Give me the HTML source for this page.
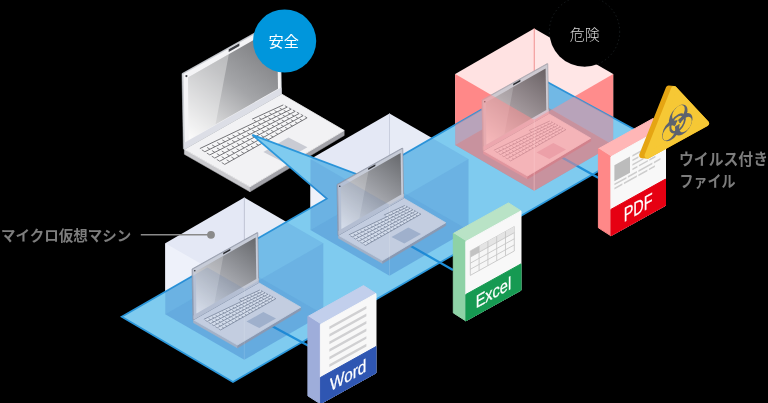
<!DOCTYPE html>
<html><head><meta charset="utf-8"><title>diagram</title>
<style>html,body{margin:0;padding:0;background:#000;}body{width:768px;height:403px;overflow:hidden;font-family:"Liberation Sans",sans-serif;}svg{display:block;filter:blur(0.4px);}</style>
</head><body>
<svg width="768" height="403" viewBox="0 0 768 403">
<defs>
<clipPath id="floorclip"><polygon points="121.7,316.8 538.1,77.0 653.0,139.6 233.0,382.0"/><polygon points="252.4,134.9 392.0,187.3 400.0,215.0 326.8,199.3"/></clipPath>
<linearGradient id="dg1" gradientUnits="userSpaceOnUse" x1="277.0" y1="26.7" x2="188.8" y2="139.8"><stop offset="0" stop-color="#6e6f72"/><stop offset="0.5" stop-color="#a4a5a8"/><stop offset="1" stop-color="#fafafa"/></linearGradient>
<linearGradient id="dg3" gradientUnits="userSpaceOnUse" x1="255.6" y1="237.5" x2="196.4" y2="313.4"><stop offset="0" stop-color="#66686c"/><stop offset="0.5" stop-color="#a2a4aa"/><stop offset="1" stop-color="#e6e8ee"/></linearGradient>
<linearGradient id="dg2" gradientUnits="userSpaceOnUse" x1="400.6" y1="153.0" x2="341.4" y2="228.9"><stop offset="0" stop-color="#66686c"/><stop offset="0.5" stop-color="#a2a4aa"/><stop offset="1" stop-color="#e6e8ee"/></linearGradient>
<linearGradient id="dg4" gradientUnits="userSpaceOnUse" x1="545.6" y1="68.5" x2="486.4" y2="144.4"><stop offset="0" stop-color="#6a6265"/><stop offset="0.5" stop-color="#a0969a"/><stop offset="1" stop-color="#ecdfe2"/></linearGradient>
<clipPath id="redclip"><polygon points="121.7,316.8 538.1,77.0 653.0,139.6 233.0,382.0"/><polygon points="252.4,134.9 392.0,187.3 400.0,215.0 326.8,199.3"/><polygon points="481.5,152.1 480.8,99.1 547.9,62.9 549.3,114.6"/></clipPath>
</defs>
<rect width="768" height="403" fill="#000"/>
<polygon points="184.4,149.3 250.0,186.8 250.0,191.8 184.4,154.3" fill="#c9c9cd" stroke="#c9c9cd" stroke-width="0.5"/>
<polygon points="250.0,186.8 344.2,130.5 344.2,135.5 250.0,191.8" fill="#a2a2a8" stroke="#a2a2a8" stroke-width="0.5"/>
<polygon points="184.4,149.3 281.5,94.0 344.2,130.5 250.0,186.8" fill="#f2f2f4" stroke="#f2f2f4" stroke-width="0.8" stroke-linejoin="round"/>
<polygon points="263.4,152.0 288.4,137.6 307.4,147.3 282.4,161.7" fill="#c9cbd3" />
<polygon points="294.9,154.6 301.2,150.9 307.4,147.3 301.0,151.2" fill="#f2f2f4" />
<polygon points="199.9,148.6 256.4,121.7 252.1,119.2 283.3,104.9 307.1,117.8 224.7,164.4" fill="#f6f6f7" />
<path d="M252.10 119.19L283.30 104.90M199.87 148.57L287.27 107.05M204.83 151.73L291.23 109.20M209.80 154.90L295.20 111.35M214.77 158.07L299.17 113.50M219.73 161.23L303.13 115.65M224.70 164.40L307.10 117.80" stroke="#737377" stroke-width="1.00" fill="none"/>
<path d="M256.42 121.70L253.83 120.20M261.56 119.26L259.00 117.79M266.70 116.82L264.18 115.39M271.84 114.38L269.36 112.98M276.98 111.93L274.53 110.57M282.13 109.49L279.71 108.17M287.27 107.05L284.89 105.76M204.83 151.73L201.85 149.83M209.92 149.23L206.97 147.37M215.00 146.73L212.09 144.90M220.08 144.23L217.21 142.44M225.16 141.73L222.32 139.97M230.25 139.22L227.44 137.50M235.33 136.72L232.56 135.04M240.41 134.22L237.68 132.57M245.49 131.72L242.79 130.10M250.57 129.22L247.91 127.64M255.66 126.71L253.03 125.17M260.74 124.21L258.15 122.71M265.82 121.71L263.27 120.24M270.90 119.21L268.38 117.77M275.99 116.71L273.50 115.31M281.07 114.20L278.62 112.84M286.15 111.70L283.74 110.38M291.23 109.20L288.85 107.91M209.80 154.90L206.82 153.00M214.82 152.34L211.88 150.47M219.85 149.78L216.94 147.95M224.87 147.21L222.00 145.42M229.89 144.65L227.06 142.90M234.92 142.09L232.11 140.37M239.94 139.53L237.17 137.84M244.96 136.97L242.23 135.32M249.99 134.41L247.29 132.79M255.01 131.84L252.35 130.27M260.04 129.28L257.41 127.74M265.06 126.72L262.47 125.22M270.08 124.16L267.53 122.69M275.11 121.60L272.58 120.16M280.13 119.04L277.64 117.64M285.15 116.47L282.70 115.11M290.18 113.91L287.76 112.59M295.20 111.35L292.82 110.06M214.77 158.07L211.79 156.17M219.73 155.45L216.79 153.58M224.70 152.82L221.79 151.00M229.66 150.20L226.79 148.41M234.63 147.58L231.79 145.82M239.59 144.96L236.79 143.24M244.55 142.34L241.79 140.65M249.52 139.72L246.79 138.07M254.48 137.09L251.79 135.48M259.45 134.47L256.79 132.90M264.41 131.85L261.79 130.31M269.38 129.23L266.79 127.72M274.34 126.61L271.79 125.14M279.31 123.99L276.79 122.55M284.27 121.36L281.79 119.97M289.24 118.74L286.79 117.38M294.20 116.12L291.79 114.80M299.17 113.50L296.79 112.21M219.73 161.23L216.75 159.33M224.64 158.55L221.69 156.69M229.55 155.87L226.64 154.04M234.45 153.19L231.58 151.40M239.36 150.51L236.52 148.75M244.26 147.83L241.46 146.11M249.17 145.15L246.40 143.46M254.07 142.46L251.34 140.81M258.98 139.78L256.28 138.17M263.89 137.10L261.22 135.52M268.79 134.42L266.17 132.88M273.70 131.74L271.11 130.23M278.60 129.06L276.05 127.59M283.51 126.38L280.99 124.94M288.42 123.69L285.93 122.30M293.32 121.01L290.87 119.65M298.23 118.33L295.81 117.01M303.13 115.65L300.75 114.36M224.70 164.40L221.72 162.50M229.55 161.66L226.60 159.79M234.39 158.92L231.48 157.09M239.24 156.18L236.37 154.38M244.09 153.44L241.25 151.68M248.94 150.69L246.13 148.97M253.78 147.95L251.01 146.27M258.63 145.21L255.90 143.56M263.48 142.47L260.78 140.86M268.32 139.73L265.66 138.15M273.17 136.99L270.54 135.45M278.02 134.25L275.43 132.74M282.86 131.51L280.31 130.04M287.71 128.76L285.19 127.33M292.56 126.02L290.07 124.63M297.41 123.28L294.96 121.92M302.25 120.54L299.84 119.22M307.10 117.80L304.72 116.51" stroke="#737377" stroke-width="0.90" fill="none"/>
<polygon points="183.4,149.1 182.0,73.6 279.2,19.2 280.5,93.8" fill="#ececef" stroke="#b4b8c0" stroke-width="0.6" stroke-linejoin="round"/>
<polygon points="184.4,149.3 183.0,73.8 280.2,19.5 281.5,94.0" fill="#f4f4f6" stroke="#b4b8c0" stroke-width="0.6" stroke-linejoin="round"/>
<polygon points="184.4,149.3 184.4,142.8 281.4,87.5 281.5,94.0" fill="#dcdee6" />
<polygon points="188.8,139.8 188.0,77.5 277.0,26.7 278.0,88.7" fill="url(#dg1)" />
<polygon points="188.8,139.8 188.0,77.5 228.9,54.1 215.5,124.5" fill="rgba(255,255,255,0.35)" />
<polygon points="228.7,49.3 239.4,43.3 239.4,45.9 228.7,51.9" fill="#3c3e44" />
<circle cx="186.4" cy="76.1" r="1.1" fill="#3c3e44"/>
<polygon points="165.3,243.2 244.3,197.6 244.3,268.6 165.3,314.2" fill="#e4e8f5" />
<polygon points="244.3,197.6 323.3,243.2 323.3,314.2 244.3,268.6" fill="#e7ebf6" />
<polygon points="165.3,243.2 244.3,288.8 244.3,359.8 165.3,314.2" fill="#eef1fa" />
<polygon points="244.3,288.8 323.3,243.2 323.3,314.2 244.3,359.8" fill="#eaeef8" />
<line x1="244.3" y1="197.6" x2="244.3" y2="288.8" stroke="#c9cede" stroke-width="1"/>
<polygon points="310.5,159.1 389.5,113.5 389.5,184.5 310.5,230.1" fill="#e4e8f5" />
<polygon points="389.5,113.5 468.5,159.1 468.5,230.1 389.5,184.5" fill="#e7ebf6" />
<polygon points="310.5,159.1 389.5,204.7 389.5,275.7 310.5,230.1" fill="#eef1fa" />
<polygon points="389.5,204.7 468.5,159.1 468.5,230.1 389.5,275.7" fill="#eaeef8" />
<line x1="389.5" y1="113.5" x2="389.5" y2="204.7" stroke="#c9cede" stroke-width="1"/>
<polygon points="455.2,74.1 534.2,28.5 534.2,99.5 455.2,145.1" fill="#ffe2e2" />
<polygon points="534.2,28.5 613.2,74.1 613.2,145.1 534.2,99.5" fill="#ffe6e6" />
<polygon points="455.2,74.1 534.2,119.7 534.2,190.7 455.2,145.1" fill="#ff8888" />
<polygon points="534.2,119.7 613.2,74.1 613.2,145.1 534.2,190.7" fill="#ff8c8c" />
<line x1="534.2" y1="28.5" x2="534.2" y2="119.7" stroke="#ff9a9a" stroke-width="1"/>
<polygon points="121.7,316.8 326.8,198.7 252.4,134.9 364.5,177.0 538.1,77.0 653.0,139.6 233.0,382.0" fill="#7fcbef" stroke="#2b97db" stroke-width="1.7" stroke-linejoin="miter"/>
<g clip-path="url(#floorclip)">
<polygon points="165.3,243.2 244.3,197.6 244.3,268.6 165.3,314.2" fill="rgba(40,100,190,0.14)" />
<polygon points="244.3,197.6 323.3,243.2 323.3,314.2 244.3,268.6" fill="rgba(40,100,190,0.14)" />
<polygon points="165.3,314.2 244.3,268.6 323.3,314.2 244.3,359.8" fill="rgba(40,100,190,0.22)" />
<line x1="244.3" y1="197.6" x2="244.3" y2="268.6" stroke="rgba(255,255,255,0.25)" stroke-width="1"/>
</g>
<g clip-path="url(#floorclip)">
<polygon points="310.5,159.1 389.5,113.5 389.5,184.5 310.5,230.1" fill="rgba(40,100,190,0.14)" />
<polygon points="389.5,113.5 468.5,159.1 468.5,230.1 389.5,184.5" fill="rgba(40,100,190,0.14)" />
<polygon points="310.5,230.1 389.5,184.5 468.5,230.1 389.5,275.7" fill="rgba(40,100,190,0.22)" />
<line x1="389.5" y1="113.5" x2="389.5" y2="184.5" stroke="rgba(255,255,255,0.25)" stroke-width="1"/>
</g>
<g clip-path="url(#floorclip)">
<polygon points="455.2,74.1 534.2,28.5 534.2,99.5 455.2,145.1" fill="rgba(60,110,190,0.2)" />
<polygon points="534.2,28.5 613.2,74.1 613.2,145.1 534.2,99.5" fill="rgba(60,110,190,0.2)" />
<polygon points="455.2,145.1 534.2,99.5 613.2,145.1 534.2,190.7" fill="rgba(157,115,129,0.6)" />
<line x1="534.2" y1="28.5" x2="534.2" y2="99.5" stroke="rgba(255,170,190,0.5)" stroke-width="1"/>
</g>
<line x1="270.0" y1="325.0" x2="308.4" y2="345.8" stroke="#1e8ed8" stroke-width="2.2"/>
<line x1="409.0" y1="245.0" x2="453.0" y2="270.0" stroke="#1e8ed8" stroke-width="2.2"/>
<line x1="560.8" y1="156.7" x2="598.2" y2="177.8" stroke="#1e8ed8" stroke-width="2.2"/>
<polygon points="193.5,319.8 237.5,345.0 237.5,348.0 193.5,322.8" fill="#b3bac9" stroke="#b3bac9" stroke-width="0.5"/>
<polygon points="237.5,345.0 300.7,307.2 300.7,310.2 237.5,348.0" fill="#97a0b2" stroke="#97a0b2" stroke-width="0.5"/>
<polygon points="193.5,319.8 258.7,282.7 300.7,307.2 237.5,345.0" fill="#d5dae5" stroke="#d5dae5" stroke-width="0.8" stroke-linejoin="round"/>
<polygon points="246.5,321.6 263.3,311.9 276.0,318.5 259.3,328.1" fill="#adb9ce" />
<polygon points="267.6,323.4 271.9,320.9 276.0,318.5 271.7,321.1" fill="#d5dae5" />
<polygon points="203.9,319.3 241.8,301.3 238.9,299.6 259.9,290.0 275.8,298.7 220.5,329.9" fill="#e7eaf1" />
<path d="M238.93 299.60L259.86 290.01M203.88 319.31L262.52 291.45M207.21 321.43L265.19 292.89M210.54 323.56L267.85 294.34M213.88 325.68L270.51 295.78M217.21 327.81L273.17 297.22M220.54 329.93L275.83 298.66" stroke="#727a8a" stroke-width="0.70" fill="none"/>
<path d="M241.83 301.28L240.09 300.27M245.27 299.64L243.56 298.66M248.72 298.00L247.03 297.04M252.17 296.37L250.51 295.43M255.62 294.73L253.98 293.81M259.07 293.09L257.45 292.20M262.52 291.45L260.93 290.58M207.21 321.43L205.21 320.16M210.62 319.75L208.65 318.50M214.03 318.08L212.08 316.85M217.44 316.40L215.51 315.19M220.85 314.72L218.95 313.54M224.26 313.04L222.38 311.88M227.67 311.36L225.81 310.23M231.08 309.68L229.25 308.57M234.49 308.00L232.68 306.92M237.90 306.32L236.12 305.27M241.31 304.64L239.55 303.61M244.72 302.97L242.98 301.96M248.13 301.29L246.42 300.30M251.54 299.61L249.85 298.65M254.95 297.93L253.29 296.99M258.36 296.25L256.72 295.34M261.77 294.57L260.15 293.68M265.19 292.89L263.59 292.03M210.54 323.56L208.54 322.28M213.91 321.84L211.94 320.59M217.28 320.12L215.33 318.89M220.66 318.40L218.73 317.20M224.03 316.68L222.12 315.50M227.40 314.96L225.52 313.81M230.77 313.24L228.91 312.11M234.14 311.52L232.31 310.42M237.51 309.81L235.70 308.72M240.88 308.09L239.09 307.03M244.25 306.37L242.49 305.33M247.62 304.65L245.88 303.64M250.99 302.93L249.28 301.94M254.36 301.21L252.67 300.25M257.73 299.49L256.07 298.55M261.11 297.77L259.46 296.86M264.48 296.05L262.86 295.16M267.85 294.34L266.25 293.47M213.88 325.68L211.88 324.41M217.21 323.92L215.23 322.67M220.54 322.16L218.59 320.94M223.87 320.41L221.94 319.20M227.20 318.65L225.30 317.47M230.53 316.89L228.65 315.73M233.86 315.13L232.01 314.00M237.20 313.37L235.36 312.26M240.53 311.61L238.72 310.53M243.86 309.85L242.07 308.79M247.19 308.09L245.43 307.06M250.52 306.33L248.78 305.32M253.85 304.57L252.14 303.59M257.18 302.81L255.49 301.85M260.51 301.06L258.85 300.12M263.85 299.30L262.20 298.38M267.18 297.54L265.56 296.65M270.51 295.78L268.91 294.91M217.21 327.81L215.21 326.53M220.50 326.01L218.52 324.76M223.79 324.21L221.84 322.98M227.08 322.41L225.16 321.21M230.38 320.61L228.47 319.43M233.67 318.81L231.79 317.66M236.96 317.01L235.10 315.88M240.25 315.21L238.42 314.11M243.54 313.41L241.73 312.33M246.84 311.61L245.05 310.56M250.13 309.82L248.36 308.78M253.42 308.02L251.68 307.01M256.71 306.22L255.00 305.23M260.00 304.42L258.31 303.46M263.29 302.62L261.63 301.68M266.59 300.82L264.94 299.91M269.88 299.02L268.26 298.13M273.17 297.22L271.57 296.36M220.54 329.93L218.54 328.66M223.79 328.09L221.82 326.84M227.05 326.25L225.09 325.03M230.30 324.41L228.37 323.21M233.55 322.57L231.65 321.40M236.80 320.74L234.92 319.58M240.06 318.90L238.20 317.77M243.31 317.06L241.47 315.95M246.56 315.22L244.75 314.14M249.81 313.38L248.03 312.32M253.07 311.54L251.30 310.50M256.32 309.70L254.58 308.69M259.57 307.86L257.85 306.87M262.82 306.02L261.13 305.06M266.07 304.18L264.41 303.24M269.33 302.34L267.68 301.43M272.58 300.50L270.96 299.61M275.83 298.66L274.23 297.80" stroke="#727a8a" stroke-width="0.63" fill="none"/>
<polygon points="192.9,319.7 192.0,269.0 257.2,232.6 258.1,282.5" fill="#dde1e9" stroke="#868d9d" stroke-width="0.6" stroke-linejoin="round"/>
<polygon points="193.5,319.8 192.6,269.1 257.8,232.7 258.7,282.7" fill="#c6cbd7" stroke="#868d9d" stroke-width="0.6" stroke-linejoin="round"/>
<polygon points="193.5,319.8 193.5,315.4 258.6,278.3 258.7,282.7" fill="#c4c9d5" />
<polygon points="196.4,313.4 195.9,271.6 255.6,237.5 256.3,279.1" fill="url(#dg3)" />
<polygon points="196.4,313.4 195.9,271.6 223.4,255.9 214.4,303.1" fill="rgba(255,255,255,0.20)" />
<polygon points="223.2,252.7 230.4,248.7 230.4,250.4 223.2,254.4" fill="#2c2e33" />
<circle cx="194.8" cy="270.7" r="0.8" fill="#2c2e33"/>
<polygon points="338.5,235.3 382.5,260.5 382.5,263.5 338.5,238.3" fill="#b3bac9" stroke="#b3bac9" stroke-width="0.5"/>
<polygon points="382.5,260.5 445.7,222.7 445.7,225.7 382.5,263.5" fill="#97a0b2" stroke="#97a0b2" stroke-width="0.5"/>
<polygon points="338.5,235.3 403.7,198.2 445.7,222.7 382.5,260.5" fill="#d5dae5" stroke="#d5dae5" stroke-width="0.8" stroke-linejoin="round"/>
<polygon points="391.5,237.1 408.3,227.4 421.0,234.0 404.3,243.6" fill="#adb9ce" />
<polygon points="412.6,238.9 416.9,236.4 421.0,234.0 416.7,236.6" fill="#d5dae5" />
<polygon points="348.9,234.8 386.8,216.8 383.9,215.1 404.9,205.5 420.8,214.2 365.5,245.4" fill="#e7eaf1" />
<path d="M383.93 215.10L404.86 205.51M348.88 234.81L407.52 206.95M352.21 236.93L410.19 208.39M355.54 239.06L412.85 209.84M358.88 241.18L415.51 211.28M362.21 243.31L418.17 212.72M365.54 245.43L420.83 214.16" stroke="#727a8a" stroke-width="0.70" fill="none"/>
<path d="M386.83 216.78L385.09 215.77M390.27 215.14L388.56 214.16M393.72 213.50L392.03 212.54M397.17 211.87L395.51 210.93M400.62 210.23L398.98 209.31M404.07 208.59L402.45 207.70M407.52 206.95L405.93 206.08M352.21 236.93L350.21 235.66M355.62 235.25L353.65 234.00M359.03 233.58L357.08 232.35M362.44 231.90L360.51 230.69M365.85 230.22L363.95 229.04M369.26 228.54L367.38 227.38M372.67 226.86L370.81 225.73M376.08 225.18L374.25 224.07M379.49 223.50L377.68 222.42M382.90 221.82L381.12 220.77M386.31 220.14L384.55 219.11M389.72 218.47L387.98 217.46M393.13 216.79L391.42 215.80M396.54 215.11L394.85 214.15M399.95 213.43L398.29 212.49M403.36 211.75L401.72 210.84M406.77 210.07L405.15 209.18M410.19 208.39L408.59 207.53M355.54 239.06L353.54 237.78M358.91 237.34L356.94 236.09M362.28 235.62L360.33 234.39M365.66 233.90L363.73 232.70M369.03 232.18L367.12 231.00M372.40 230.46L370.52 229.31M375.77 228.74L373.91 227.61M379.14 227.02L377.31 225.92M382.51 225.31L380.70 224.22M385.88 223.59L384.09 222.53M389.25 221.87L387.49 220.83M392.62 220.15L390.88 219.14M395.99 218.43L394.28 217.44M399.36 216.71L397.67 215.75M402.73 214.99L401.07 214.05M406.11 213.27L404.46 212.36M409.48 211.55L407.86 210.66M412.85 209.84L411.25 208.97M358.88 241.18L356.88 239.91M362.21 239.42L360.23 238.17M365.54 237.66L363.59 236.44M368.87 235.91L366.94 234.70M372.20 234.15L370.30 232.97M375.53 232.39L373.65 231.23M378.86 230.63L377.01 229.50M382.20 228.87L380.36 227.76M385.53 227.11L383.72 226.03M388.86 225.35L387.07 224.29M392.19 223.59L390.43 222.56M395.52 221.83L393.78 220.82M398.85 220.07L397.14 219.09M402.18 218.31L400.49 217.35M405.51 216.56L403.85 215.62M408.85 214.80L407.20 213.88M412.18 213.04L410.56 212.15M415.51 211.28L413.91 210.41M362.21 243.31L360.21 242.03M365.50 241.51L363.52 240.26M368.79 239.71L366.84 238.48M372.08 237.91L370.16 236.71M375.38 236.11L373.47 234.93M378.67 234.31L376.79 233.16M381.96 232.51L380.10 231.38M385.25 230.71L383.42 229.61M388.54 228.91L386.73 227.83M391.84 227.11L390.05 226.06M395.13 225.32L393.36 224.28M398.42 223.52L396.68 222.51M401.71 221.72L400.00 220.73M405.00 219.92L403.31 218.96M408.29 218.12L406.63 217.18M411.59 216.32L409.94 215.41M414.88 214.52L413.26 213.63M418.17 212.72L416.57 211.86M365.54 245.43L363.54 244.16M368.79 243.59L366.82 242.34M372.05 241.75L370.09 240.53M375.30 239.91L373.37 238.71M378.55 238.07L376.65 236.90M381.80 236.24L379.92 235.08M385.06 234.40L383.20 233.27M388.31 232.56L386.47 231.45M391.56 230.72L389.75 229.64M394.81 228.88L393.03 227.82M398.07 227.04L396.30 226.00M401.32 225.20L399.58 224.19M404.57 223.36L402.85 222.37M407.82 221.52L406.13 220.56M411.07 219.68L409.41 218.74M414.33 217.84L412.68 216.93M417.58 216.00L415.96 215.11M420.83 214.16L419.23 213.30" stroke="#727a8a" stroke-width="0.63" fill="none"/>
<polygon points="337.9,235.2 337.0,184.5 402.2,148.1 403.1,198.0" fill="#dde1e9" stroke="#868d9d" stroke-width="0.6" stroke-linejoin="round"/>
<polygon points="338.5,235.3 337.6,184.6 402.8,148.2 403.7,198.2" fill="#c6cbd7" stroke="#868d9d" stroke-width="0.6" stroke-linejoin="round"/>
<polygon points="338.5,235.3 338.5,230.9 403.6,193.8 403.7,198.2" fill="#c4c9d5" />
<polygon points="341.4,228.9 340.9,187.1 400.6,153.0 401.3,194.6" fill="url(#dg2)" />
<polygon points="341.4,228.9 340.9,187.1 368.4,171.4 359.4,218.6" fill="rgba(255,255,255,0.20)" />
<polygon points="368.2,168.2 375.4,164.2 375.4,165.9 368.2,169.9" fill="#2c2e33" />
<circle cx="339.8" cy="186.2" r="0.8" fill="#2c2e33"/>
<polygon points="483.5,150.8 527.5,176.0 527.5,179.0 483.5,153.8" fill="#c39ead" stroke="#c39ead" stroke-width="0.5"/>
<polygon points="527.5,176.0 590.7,138.2 590.7,141.2 527.5,179.0" fill="#a57689" stroke="#a57689" stroke-width="0.5"/>
<polygon points="483.5,150.8 548.7,113.7 590.7,138.2 527.5,176.0" fill="#e9dae1" stroke="#e9dae1" stroke-width="0.8" stroke-linejoin="round"/>
<polygon points="536.5,152.6 553.3,142.9 566.0,149.5 549.3,159.1" fill="#d9b2c1" />
<polygon points="557.6,154.4 561.9,151.9 566.0,149.5 561.7,152.1" fill="#e9dae1" />
<polygon points="493.9,150.3 531.8,132.3 528.9,130.6 549.9,121.0 565.8,129.7 510.5,160.9" fill="#efe2e8" />
<path d="M528.93 130.60L549.86 121.01M493.88 150.31L552.52 122.45M497.21 152.43L555.19 123.89M500.54 154.56L557.85 125.34M503.88 156.68L560.51 126.78M507.21 158.81L563.17 128.22M510.54 160.93L565.83 129.66" stroke="#817281" stroke-width="0.60" fill="none"/>
<path d="M531.83 132.28L530.23 131.36M535.27 130.64L533.70 129.74M538.72 129.00L537.17 128.12M542.17 127.37L540.65 126.51M545.62 125.73L544.12 124.89M549.07 124.09L547.59 123.27M552.52 122.45L551.06 121.66M497.21 152.43L495.38 151.26M500.62 150.75L498.81 149.61M504.03 149.08L502.24 147.95M507.44 147.40L505.67 146.29M510.85 145.72L509.11 144.64M514.26 144.04L512.54 142.98M517.67 142.36L515.97 141.32M521.08 140.68L519.40 139.67M524.49 139.00L522.83 138.01M527.90 137.32L526.27 136.35M531.31 135.64L529.70 134.70M534.72 133.97L533.13 133.04M538.13 132.29L536.56 131.38M541.54 130.61L539.99 129.73M544.95 128.93L543.43 128.07M548.36 127.25L546.86 126.41M551.77 125.57L550.29 124.76M555.19 123.89L553.72 123.10M500.54 154.56L498.71 153.39M503.91 152.84L502.10 151.69M507.28 151.12L505.50 150.00M510.66 149.40L508.89 148.30M514.03 147.68L512.28 146.60M517.40 145.96L515.67 144.90M520.77 144.24L519.07 143.21M524.14 142.52L522.46 141.51M527.51 140.81L525.85 139.81M530.88 139.09L529.24 138.12M534.25 137.37L532.64 136.42M537.62 135.65L536.03 134.72M540.99 133.93L539.42 133.03M544.36 132.21L542.81 131.33M547.73 130.49L546.21 129.63M551.11 128.77L549.60 127.94M554.48 127.05L552.99 126.24M557.85 125.34L556.38 124.54M503.88 156.68L502.04 155.51M507.21 154.92L505.40 153.78M510.54 153.16L508.75 152.04M513.87 151.41L512.10 150.30M517.20 149.65L515.46 148.57M520.53 147.89L518.81 146.83M523.86 146.13L522.16 145.09M527.20 144.37L525.51 143.35M530.53 142.61L528.87 141.62M533.86 140.85L532.22 139.88M537.19 139.09L535.57 138.14M540.52 137.33L538.93 136.41M543.85 135.57L542.28 134.67M547.18 133.81L545.63 132.93M550.51 132.06L548.99 131.20M553.85 130.30L552.34 129.46M557.18 128.54L555.69 127.72M560.51 126.78L559.04 125.98M507.21 158.81L505.38 157.64M510.50 157.01L508.69 155.86M513.79 155.21L512.00 154.08M517.08 153.41L515.32 152.31M520.38 151.61L518.63 150.53M523.67 149.81L521.94 148.75M526.96 148.01L525.26 146.98M530.25 146.21L528.57 145.20M533.54 144.41L531.88 143.42M536.84 142.61L535.20 141.64M540.13 140.82L538.51 139.87M543.42 139.02L541.82 138.09M546.71 137.22L545.14 136.31M550.00 135.42L548.45 134.54M553.29 133.62L551.77 132.76M556.59 131.82L555.08 130.98M559.88 130.02L558.39 129.20M563.17 128.22L561.71 127.43M510.54 160.93L508.71 159.76M513.79 159.09L511.98 157.95M517.05 157.25L515.26 156.13M520.30 155.41L518.53 154.31M523.55 153.57L521.80 152.49M526.80 151.74L525.08 150.68M530.06 149.90L528.35 148.86M533.31 148.06L531.63 147.04M536.56 146.22L534.90 145.23M539.81 144.38L538.18 143.41M543.07 142.54L541.45 141.59M546.32 140.70L544.72 139.77M549.57 138.86L548.00 137.96M552.82 137.02L551.27 136.14M556.07 135.18L554.55 134.32M559.33 133.34L557.82 132.50M562.58 131.50L561.09 130.69M565.83 129.66L564.37 128.87" stroke="#817281" stroke-width="0.54" fill="none"/>
<polygon points="482.9,150.7 482.0,100.0 547.2,63.6 548.1,113.5" fill="#e4e2e8" stroke="#a09aa2" stroke-width="0.6" stroke-linejoin="round"/>
<polygon points="483.5,150.8 482.6,100.1 547.8,63.7 548.7,113.7" fill="#cdc9d0" stroke="#a09aa2" stroke-width="0.6" stroke-linejoin="round"/>
<polygon points="483.5,150.8 483.5,146.4 548.6,109.3 548.7,113.7" fill="#d8c0cc" />
<polygon points="486.4,144.4 485.9,102.6 545.6,68.5 546.3,110.1" fill="url(#dg4)" />
<polygon points="486.4,144.4 485.9,102.6 513.4,86.9 504.4,134.1" fill="rgba(255,255,255,0.18)" />
<polygon points="513.2,83.7 520.4,79.7 520.4,81.4 513.2,85.4" fill="#2c2e33" />
<circle cx="484.8" cy="101.7" r="0.8" fill="#2c2e33"/>
<g clip-path="url(#floorclip)">
<polygon points="165.3,243.2 244.3,288.8 244.3,359.8 165.3,314.2" fill="rgba(40,100,190,0.10)" />
<polygon points="244.3,288.8 323.3,243.2 323.3,314.2 244.3,359.8" fill="rgba(40,100,190,0.10)" />
<line x1="244.3" y1="288.8" x2="244.3" y2="359.8" stroke="rgba(255,255,255,0.13)" stroke-width="1"/>
</g>
<g clip-path="url(#floorclip)">
<polygon points="310.5,159.1 389.5,204.7 389.5,275.7 310.5,230.1" fill="rgba(40,100,190,0.10)" />
<polygon points="389.5,204.7 468.5,159.1 468.5,230.1 389.5,275.7" fill="rgba(40,100,190,0.10)" />
<line x1="389.5" y1="204.7" x2="389.5" y2="275.7" stroke="rgba(255,255,255,0.13)" stroke-width="1"/>
</g>
<g clip-path="url(#redclip)">
<polygon points="455.2,74.1 534.2,119.7 534.2,190.7 455.2,145.1" fill="rgba(255,142,143,0.50)" />
<polygon points="534.2,119.7 613.2,74.1 613.2,145.1 534.2,190.7" fill="rgba(255,142,143,0.50)" />
<line x1="534.2" y1="119.7" x2="534.2" y2="190.7" stroke="rgba(255,200,200,0.5)" stroke-width="1"/>
</g>
<polygon points="320.4,324.5 376.0,293.6 363.5,285.6 307.9,316.5" fill="#c2cfec" stroke="#c2cfec" stroke-width="1" stroke-linejoin="round"/>
<polygon points="320.4,324.5 320.4,403.9 307.9,395.9 307.9,316.5" fill="#9eadda" stroke="#9eadda" stroke-width="1" stroke-linejoin="round"/>
<polygon points="320.4,324.5 376.0,293.6 376.0,373.0 320.4,403.9" fill="#f8f8f8" stroke="#f8f8f8" stroke-width="1" stroke-linejoin="round"/>
<polygon points="320.4,377.5 376.0,346.6 376.0,373.0 320.4,403.9" fill="#2f56b2" stroke="#2f56b2" stroke-width="1" stroke-linejoin="round"/>
<g transform="matrix(1 -0.555 0 1 320.4 324.5)">
<rect x="9" y="7.0" width="37" height="2.7" fill="#d0d0d2"/><rect x="9" y="14.6" width="37" height="2.7" fill="#d0d0d2"/><rect x="9" y="22.1" width="37" height="2.7" fill="#d0d0d2"/><rect x="9" y="29.6" width="37" height="2.7" fill="#d0d0d2"/><rect x="9" y="37.2" width="37" height="2.7" fill="#d0d0d2"/><rect x="9" y="44.8" width="37" height="2.7" fill="#d0d0d2"/>
<text x="27.8" y="72.4" text-anchor="middle" font-family="'Liberation Sans',sans-serif" font-size="18" fill="#fff" stroke="#fff" stroke-width="0.25" textLength="36.5" lengthAdjust="spacingAndGlyphs">Word</text>
</g>
<polygon points="465.8,241.5 521.0,210.9 508.5,202.9 453.3,233.5" fill="#b9e3c6" stroke="#b9e3c6" stroke-width="1" stroke-linejoin="round"/>
<polygon points="465.8,241.5 465.8,320.9 453.3,312.9 453.3,233.5" fill="#8ed2a6" stroke="#8ed2a6" stroke-width="1" stroke-linejoin="round"/>
<polygon points="465.8,241.5 521.0,210.9 521.0,290.3 465.8,320.9" fill="#f8f8f8" stroke="#f8f8f8" stroke-width="1" stroke-linejoin="round"/>
<polygon points="465.8,294.5 521.0,263.9 521.0,290.3 465.8,320.9" fill="#169a52" stroke="#169a52" stroke-width="1" stroke-linejoin="round"/>
<g transform="matrix(1 -0.555 0 1 465.8 241.5)">
<rect x="4.5" y="12" width="44" height="24.4" fill="#f6f6f6" stroke="#c2c2c2" stroke-width="0.7"/><rect x="4.5" y="12" width="44" height="6.1" fill="#e4e4e4"/><rect x="4.5" y="12" width="8.8" height="6.1" fill="#c2c2c2"/><line x1="4.5" x2="48.5" y1="18.1" y2="18.1" stroke="#c2c2c2" stroke-width="0.7"/><line x1="4.5" x2="48.5" y1="24.2" y2="24.2" stroke="#c2c2c2" stroke-width="0.7"/><line x1="4.5" x2="48.5" y1="30.3" y2="30.3" stroke="#c2c2c2" stroke-width="0.7"/><line y1="12" y2="36.4" x1="13.3" x2="13.3" stroke="#c2c2c2" stroke-width="0.7"/><line y1="12" y2="36.4" x1="22.1" x2="22.1" stroke="#c2c2c2" stroke-width="0.7"/><line y1="12" y2="36.4" x1="30.9" x2="30.9" stroke="#c2c2c2" stroke-width="0.7"/><line y1="12" y2="36.4" x1="39.7" x2="39.7" stroke="#c2c2c2" stroke-width="0.7"/>
<text x="27.6" y="72.4" text-anchor="middle" font-family="'Liberation Sans',sans-serif" font-size="18" fill="#fff" stroke="#fff" stroke-width="0.25" textLength="35.5" lengthAdjust="spacingAndGlyphs">Excel</text>
</g>
<polygon points="610.9,156.8 665.5,126.5 653.0,118.5 598.4,148.8" fill="#ffb6b6" stroke="#ffb6b6" stroke-width="1" stroke-linejoin="round"/>
<polygon points="610.9,156.8 610.9,235.8 598.4,227.8 598.4,148.8" fill="#ff8888" stroke="#ff8888" stroke-width="1" stroke-linejoin="round"/>
<polygon points="610.9,156.8 665.5,126.5 665.5,205.5 610.9,235.8" fill="#f8f8f8" stroke="#f8f8f8" stroke-width="1" stroke-linejoin="round"/>
<polygon points="610.9,209.4 665.5,179.1 665.5,205.5 610.9,235.8" fill="#e60012" stroke="#e60012" stroke-width="1" stroke-linejoin="round"/>
<g transform="matrix(1 -0.555 0 1 610.9 156.8)">
<rect x="3.5" y="10.4" width="15.6" height="16.1" fill="#bcbcbc"/><line x1="21.5" x2="49.5" y1="11.0" y2="11.0" stroke="#cdcdcd" stroke-width="1.7" stroke-dasharray="9 1.5 12 1.5 6"/><line x1="21.5" x2="49.5" y1="15.5" y2="15.5" stroke="#cdcdcd" stroke-width="1.7" stroke-dasharray="6 1.5 8 1.5 10 1.5 3"/><line x1="21.5" x2="49.5" y1="20.0" y2="20.0" stroke="#cdcdcd" stroke-width="1.7" stroke-dasharray="11 1.5 7 1.5 8"/><line x1="21.5" x2="49.5" y1="24.5" y2="24.5" stroke="#cdcdcd" stroke-width="1.7" stroke-dasharray="5 1.5 9 1.5 6 40"/><line x1="3.5" x2="49.5" y1="29.6" y2="29.6" stroke="#cdcdcd" stroke-width="1.7" stroke-dasharray="12 1.5 9 1.5 14 1.5 8"/><line x1="3.5" x2="49.5" y1="33.8" y2="33.8" stroke="#cdcdcd" stroke-width="1.7" stroke-dasharray="8 1.5 13 1.5 9 1.5 6 40"/>
<text x="27.3" y="72.6" text-anchor="middle" font-family="'Liberation Sans',sans-serif" font-size="20" fill="#fff" stroke="#fff" stroke-width="0.25" textLength="29" lengthAdjust="spacingAndGlyphs">PDF</text>
</g>
<polygon points="668.7,88.6 674.0,89.0 706.0,123.3 647.5,155.5 642.2,155.2" fill="#e5a513" stroke="#e5a513" stroke-width="6" stroke-linejoin="round"/>
<polygon points="674.0,89.0 706.0,123.3 647.5,155.5" fill="#f6c835" stroke="#f6c835" stroke-width="6" stroke-linejoin="round"/>
<g transform="matrix(0.92 -0.46 -0.08 1.02 677.6 123.4) scale(0.335)"><mask id="bhm" maskUnits="userSpaceOnUse" x="-70" y="-70" width="140" height="140"><rect x="-70" y="-70" width="140" height="140" fill="#fff"/><circle cx="0.00" cy="-31.00" r="20.5" fill="#000"/><circle cx="-26.85" cy="15.50" r="20.5" fill="#000"/><circle cx="26.85" cy="15.50" r="20.5" fill="#000"/><circle cx="0" cy="0" r="5.5" fill="#000"/><line x1="0" y1="0" x2="0.00" y2="-24.00" stroke="#000" stroke-width="3.5"/><line x1="0" y1="0" x2="-20.78" y2="12.00" stroke="#000" stroke-width="3.5"/><line x1="0" y1="0" x2="20.78" y2="12.00" stroke="#000" stroke-width="3.5"/></mask><clipPath id="bhc"><circle cx="0.00" cy="-30.00" r="21.5"/><circle cx="-25.98" cy="15.00" r="21.5"/><circle cx="25.98" cy="15.00" r="21.5"/></clipPath><g mask="url(#bhm)" fill="#5d626e"><circle cx="0.00" cy="-22.00" r="30"/><circle cx="-19.05" cy="11.00" r="30"/><circle cx="19.05" cy="11.00" r="30"/></g><circle cx="0" cy="0" r="23.5" fill="none" stroke="#5d626e" stroke-width="6.5" clip-path="url(#bhc)"/></g>
<circle cx="284.6" cy="41" r="31.6" fill="#0096dc"/>
<text x="283.8" y="47.4" text-anchor="middle" font-family="'Liberation Sans','Noto Sans CJK JP',sans-serif" font-size="15.2" fill="#fff">安全</text>
<circle cx="584.5" cy="31.5" r="35.2" fill="#000" stroke="rgba(170,200,215,0.22)" stroke-width="0.6" stroke-dasharray="1.5 2.5"/>
<text x="584.8" y="40" text-anchor="middle" font-family="'Liberation Sans','Noto Sans CJK JP',sans-serif" font-size="15" font-weight="300" fill="#d6d6d6">危険</text>
<text x="1" y="240.8" font-family="'Liberation Sans','Noto Sans CJK JP',sans-serif" font-size="14.5" font-weight="bold" fill="#7d7d7d" textLength="130.3" lengthAdjust="spacingAndGlyphs">マイクロ仮想マシン</text>
<line x1="140.8" y1="234.8" x2="211" y2="234.8" stroke="#8a8a8a" stroke-width="1.5"/><circle cx="211" cy="234.8" r="3.9" fill="#8a8a8a"/>
<text x="679" y="165.2" font-family="'Liberation Sans','Noto Sans CJK JP',sans-serif" font-size="16" font-weight="bold" fill="#7d7d7d" textLength="89" lengthAdjust="spacingAndGlyphs">ウイルス付き</text>
<text x="679.5" y="187.4" font-family="'Liberation Sans','Noto Sans CJK JP',sans-serif" font-size="16" font-weight="bold" fill="#7d7d7d" textLength="56" lengthAdjust="spacingAndGlyphs">ファイル</text>
</svg>
</body></html>
